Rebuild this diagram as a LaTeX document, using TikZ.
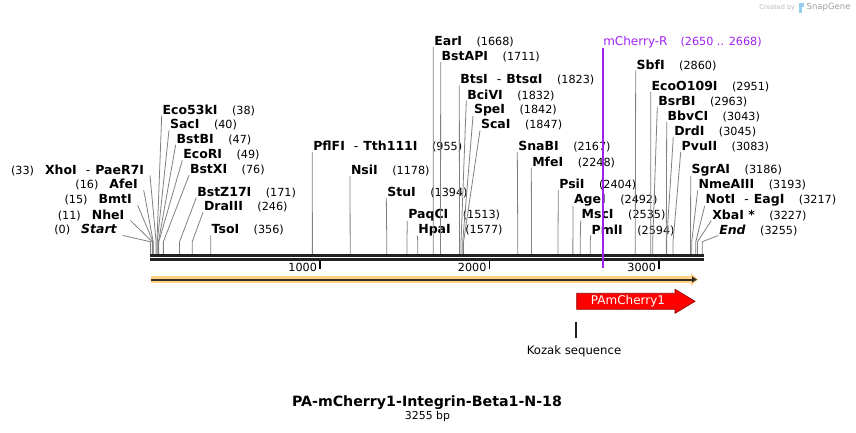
\documentclass[tikz,border=0pt]{standalone}
\usepackage{fontspec}
\setmainfont{DejaVu Sans}
\usetikzlibrary{arrows.meta}

\definecolor{cutline}{RGB}{128,128,128}
\definecolor{backbone}{RGB}{34,34,34}
\definecolor{primer}{RGB}{160,32,240}
\definecolor{featorange}{RGB}{255,210,130}
\definecolor{featdark}{RGB}{55,45,35}
\definecolor{featred}{RGB}{255,0,0}
\definecolor{creditgray}{RGB}{185,185,185}
\definecolor{crediticon}{RGB}{150,205,240}

\tikzset{
  site label/.style={inner sep=0pt, outer sep=0pt},
  site line/.style={cutline, line width=0.8pt},
  backbone line/.style={backbone, line width=2.6pt},
  scale tick/.style={black, line width=1.6pt}
}

\newcommand\enz[1]{{\fontsize{12.5}{14}\selectfont\bfseries #1}}
\newcommand\pos[1]{{\fontsize{11.2}{13}\selectfont (#1)}}
\newcommand\orsep{\hspace{9pt}{\mdseries -}\hspace{5pt}}
\newcommand\bpx[1]{150.5+0.1695*#1}

% label right of its cut site
\newcommand\rsite[6]{%
  \coordinate (#1-cut) at ({\bpx{#2}},253.8);
  \node[site label,anchor=west] (#1) at (#3,#4) {\enz{#5}\hspace{14.5pt}\pos{#6}};
  \draw[site line] (#1-cut) -- ++(0,-12) -- ([xshift=-1pt]#1.south west);
}
% label left of its cut site
\newcommand\lsite[6]{%
  \coordinate (#1-cut) at ({\bpx{#2}},253.8);
  \node[site label,anchor=east] (#1) at (#3,#4) {\pos{#6}\hspace{11pt}\enz{#5}};
  \draw[site line] (#1-cut) -- ++(0,-12) -- ([xshift=6pt]#1.south east);
}

\begin{document}
\begin{tikzpicture}[x=1pt,y=-1pt]
\useasboundingbox (0,0) rectangle (856,433);

% sequence line
\coordinate (bb-start) at (150,255.3);
\coordinate (bb-end) at (704,255.3);
\draw[backbone line] (bb-start) -- (bb-end);
\draw[backbone line] ([yshift=-4.3pt]bb-start) -- ([yshift=-4.3pt]bb-end);

% ruler
\foreach \k in {1000,2000,3000} {
  \coordinate (tick\k) at ({\bpx{\k}},261);
  \draw[scale tick] (tick\k) -- ++(0,8);
  \node[site label,anchor=east] (ticklbl\k) at ([xshift=-3pt,yshift=-6pt]tick\k) {\fontsize{11.2}{13}\selectfont\k};
}

% left cluster
\lsite{startpos}{0}{116.7}{230}{\itshape Start}{0}
\lsite{nhei}{11}{124.3}{215}{NheI}{11}
\lsite{bmti}{15}{131.7}{200}{BmtI}{15}
\lsite{afei}{16}{137.7}{184.5}{AfeI}{16}
\lsite{xhoi}{33}{144}{170}{XhoI\orsep PaeR7I}{33}

\rsite{eco53ki}{38}{162.7}{110}{Eco53kI}{38}
\rsite{saci}{40}{170}{125}{SacI}{40}
\rsite{bstbi}{47}{176.7}{139.5}{BstBI}{47}
\rsite{ecori}{49}{183.3}{155}{EcoRI}{49}
\rsite{bstxi}{76}{190}{170}{BstXI}{76}
\rsite{bstz17i}{171}{197.3}{192.3}{BstZ17I}{171}
\rsite{draiii}{246}{204}{207}{DraIII}{246}
\rsite{tsoi}{356}{211.7}{230}{TsoI}{356}

% middle
\rsite{pflfi}{955}{313.3}{146.7}{PflFI\orsep Tth111I}{955}
\rsite{nsii}{1178}{351}{170.7}{NsiI}{1178}
\rsite{stui}{1394}{387.3}{192.3}{StuI}{1394}
\rsite{paqci}{1513}{408.3}{215}{PaqCI}{1513}
\rsite{hpai}{1577}{418.3}{230}{HpaI}{1577}
\rsite{eari}{1668}{434.3}{41.7}{EarI}{1668}
\rsite{bstapi}{1711}{441.7}{56.7}{BstAPI}{1711}
\rsite{btsi}{1823}{460.3}{80}{BtsI\orsep BtsαI}{1823}
\rsite{bcivi}{1832}{467.3}{95}{BciVI}{1832}
\rsite{spei}{1842}{474}{110}{SpeI}{1842}
\rsite{scai}{1847}{481}{125}{ScaI}{1847}
\rsite{snabi}{2167}{518.3}{146.7}{SnaBI}{2167}
\rsite{mfei}{2248}{532.3}{162.3}{MfeI}{2248}
\rsite{psii}{2404}{559.3}{184.3}{PsiI}{2404}
\rsite{agei}{2492}{574}{200}{AgeI}{2492}
\rsite{msci}{2535}{581.7}{215}{MscI}{2535}
\rsite{pmli}{2594}{591.7}{230}{PmlI}{2594}

% right cluster
\rsite{sbfi}{2860}{636.7}{65}{SbfI}{2860}
\rsite{ecoo109i}{2951}{651.7}{86.7}{EcoO109I}{2951}
\rsite{bsrbi}{2963}{658.3}{101.7}{BsrBI}{2963}
\rsite{bbvci}{3043}{667.7}{116.7}{BbvCI}{3043}
\rsite{drdi}{3045}{674.3}{131.7}{DrdI}{3045}
\rsite{pvuii}{3083}{681.7}{146.7}{PvuII}{3083}
\rsite{sgrai}{3186}{691.7}{170}{SgrAI}{3186}
\rsite{nmeaiii}{3193}{698.7}{185}{NmeAIII}{3193}
\rsite{noti}{3217}{705.7}{200}{NotI\orsep EagI}{3217}
\rsite{xbai}{3227}{712.3}{215}{XbaI *}{3227}
\rsite{endpos}{3255}{719.3}{230}{\itshape End}{3255}

% primer
\node[site label,anchor=west,text=primer] (mcherryr) at (603.3,42.3) {\fontsize{12}{14}\selectfont mCherry-R\hspace{13pt}\fontsize{11.2}{13}\selectfont(2650 .. 2668)};
\coordinate (mcherryr-end) at (603,266);
\draw[primer, line width=1.3pt] (mcherryr-end |- mcherryr.south) -- (mcherryr-end);
\fill[primer] ([xshift=-1.3pt]mcherryr-end) rectangle ++(2.6,1.6);

% features
\coordinate (orf-start) at (151,279.5);
\coordinate (orf-end) at (698,279.5);
\draw[featorange, line width=6.5pt, -{Triangle[length=7pt,width=12pt]}] (orf-start) -- (orf-end);
\draw[featdark, line width=2pt, -{Triangle[length=5pt,width=6pt]}] (orf-start) -- ([xshift=-1pt]orf-end);

\draw[featred!60!black, fill=featred, line width=0.7pt] (576.7,293.3) -- (675,293.3) -- (675,289.3) -- (695,301.3) -- (675,313.3) -- (675,309.3) -- (576.7,309.3) -- cycle;
\node[site label,text=white] (pamcherry) at (628,301.5) {\fontsize{12}{14}\selectfont PAmCherry1};

\coordinate (kozak-top) at (576,322);
\draw[backbone, line width=2pt] (kozak-top) -- ++(0,15.5);
\node[site label] (kozak) at (574,351) {\fontsize{11.7}{14}\selectfont Kozak sequence};

% title
\node[site label] (title) at (427,402.7) {\fontsize{14.2}{16}\selectfont\bfseries PA-mCherry1-Integrin-Beta1-N-18};
\node[site label] (length) at (427.5,416.7) {\fontsize{10.9}{13}\selectfont 3255 bp};

% credit
\node[site label,anchor=west,text=creditgray] (credit) at (759.3,7.3) {\fontsize{6.5}{8}\selectfont Created by};
\fill[crediticon] (799.3,3) rectangle (801.8,13);
\fill[crediticon] (801.8,3) rectangle (804,7.5);
\node[site label,anchor=west,text=creditgray!85!black] (snapgene) at (806.7,7.3) {\fontsize{8.5}{10}\selectfont SnapGene};
\end{tikzpicture}
\end{document}
